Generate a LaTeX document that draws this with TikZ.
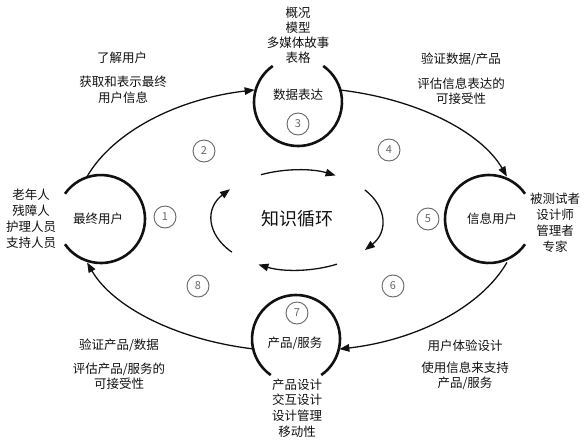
\documentclass[tikz,border=0pt]{standalone}
\usepackage{fontspec}
\setmainfont{Noto Sans CJK SC}
\usetikzlibrary{arrows.meta,calc}
\definecolor{numgray}{HTML}{666666}
\definecolor{ink}{HTML}{111111}
\tikzset{
  ring/.style={line width=2.6pt, ink},
  conn/.style={line width=1.3pt, ink, -{Triangle[length=10pt,width=7.5pt]}},
  cyc/.style={line width=1.3pt, ink, -{Triangle[length=10pt,width=7.5pt]}},
  hub/.style={circle, minimum size=88pt, inner sep=0pt, outer sep=0pt},
  num/.style={circle, draw=numgray, line width=0.9pt, text=numgray, minimum size=22pt, inner sep=0pt, font=\fontsize{11}{11}\selectfont},
  lbl/.style={align=center, text=ink, inner sep=0pt, font=\fontsize{12.5}{15.5}\selectfont},
  lst/.style={align=center, text=ink, inner sep=0pt, font=\fontsize{12.5}{16}\selectfont},
  big/.style={text=ink, inner sep=0pt, font=\fontsize{18}{18}\selectfont}
}
\begin{document}
\begin{tikzpicture}[x=1pt,y=1pt]
\useasboundingbox (0,0) rectangle (585,-444);
% hubs
\node[hub] (T) at (298,-102) {};
\node[hub] (L) at (101,-219) {};
\node[hub] (R) at (489,-219) {};
\node[hub] (B) at (296,-339) {};
\draw[ring] (T.125) arc[start angle=125, end angle=415, radius=44];
\draw[ring] (L.-145) arc[start angle=-145, end angle=145, radius=44];
\draw[ring] (R.35) arc[start angle=35, end angle=325, radius=44];
\draw[ring] (B.-55) arc[start angle=-55, end angle=235, radius=44];
% hub labels
\node[lbl] (Tl) at (298,-95) {数据表达};
\node[lbl] (Ll) at (98,-219) {最终用户};
\node[lbl] (Rl) at (492,-219) {信息用户};
\node[lbl] (Bl) at (295,-343) {产品/服务};
% outer cycle
\coordinate (E) at (297,-219.5);
\coordinate (o1) at ($(E)+(161:222 and 132)$);
\coordinate (o2) at ($(E)+(79:222 and 132)$);
\coordinate (o3) at ($(E)+(-19:222 and 132)$);
\coordinate (o4) at ($(E)+(-101:222 and 132)$);
\draw[conn] (o1) arc[start angle=161, end angle=101, x radius=222, y radius=132];
\draw[conn] (o2) arc[start angle=79, end angle=19, x radius=222, y radius=132];
\draw[conn] (o3) arc[start angle=-19, end angle=-79, x radius=222, y radius=132];
\draw[conn] (o4) arc[start angle=-101, end angle=-161, x radius=222, y radius=132];
% inner cycle
\node[big] (K) at (297,-219) {知识循环};
\coordinate (I) at (297,-220);
\coordinate (i1) at ($(I)+(115:85 and 50)$);
\coordinate (i2) at ($(I)+(37:85 and 50)$);
\coordinate (i3) at ($(I)+(-62:85 and 50)$);
\coordinate (i4) at ($(I)+(-140:85 and 50)$);
\draw[cyc] (i1) arc[start angle=115, end angle=63, x radius=85, y radius=50];
\draw[cyc] (i2) arc[start angle=37, end angle=-37, x radius=85, y radius=50];
\draw[cyc] (i3) arc[start angle=-62, end angle=-117, x radius=85, y radius=50];
\draw[cyc] (i4) arc[start angle=-140, end angle=-218, x radius=85, y radius=50];
% numbers
\node[num] (n1) at (165,-217) {1};
\node[num] (n2) at (204,-151) {2};
\node[num] (n3) at (298,-124) {3};
\node[num] (n4) at (389,-150) {4};
\node[num] (n5) at (428,-219) {5};
\node[num] (n6) at (393,-286) {6};
\node[num] (n7) at (297,-313) {7};
\node[num] (n8) at (198,-286) {8};
% lists
\node[lbl, font=\fontsize{12.5}{15}\selectfont] (topl) at (298,-35.5) {概况\\模型\\多媒体故事\\表格};
\node[lst] (leftl) at (31,-219) {老年人\\残障人\\护理人员\\支持人员};
\node[lst] (rightl) at (555,-223) {被测试者\\设计师\\管理者\\专家};
\node[lst, font=\fontsize{12.5}{15.7}\selectfont] (botl) at (297,-408) {产品设计\\交互设计\\设计管理\\移动性};
% side labels
\node[lbl] (a1) at (122,-58) {了解用户};
\node[lbl] (a2) at (123,-90) {获取和表示最终\\用户信息};
\node[lbl] (b1) at (461,-59) {验证数据/产品};
\node[lbl] (b2) at (461,-91) {评估信息表达的\\可接受性};
\node[lbl] (c1) at (465,-346) {用户体验设计};
\node[lbl] (c2) at (465,-376) {使用信息来支持\\产品/服务};
\node[lbl] (d1) at (119,-345) {验证产品/数据};
\node[lbl] (d2) at (119,-376) {评估产品/服务的\\可接受性};
\end{tikzpicture}
\end{document}
